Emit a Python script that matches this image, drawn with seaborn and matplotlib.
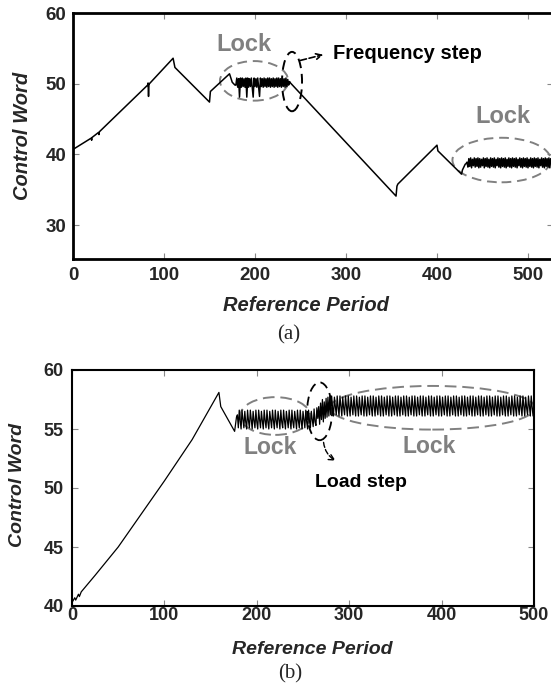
import numpy as np
import pandas as pd
import seaborn as sns
import matplotlib
matplotlib.use("Agg")
import matplotlib.pyplot as plt
from matplotlib.patches import Ellipse

# ---------------- data: panel (a) ----------------
a_seg1_x = [0, 20, 20.5, 21, 28, 28.5, 29, 82, 82.5, 83, 83.5, 84, 110, 112, 150, 151, 172, 175, 178]
a_seg1_y = [40.7, 42.3, 42.0, 42.4, 43.1, 42.8, 43.2, 49.8, 50.1, 48.2, 50.0, 50.0, 53.6, 52.3, 47.4, 48.9, 51.4, 50.2, 49.8]
a_lock1_start = 179
a_lock1_y = [
    49.8, 50.8, 49.5, 50.7, 48.1, 50.8, 49.5, 50.8, 49.6, 50.7,
    49.5, 50.8, 48.1, 50.8, 49.5, 50.7, 49.6, 50.8, 49.5, 48.1,
    50.8, 49.6, 50.7, 49.5, 50.8, 49.5, 48.2, 50.8, 49.6, 50.7,
    49.5, 50.8, 49.6, 50.7, 49.5, 50.8, 49.6, 50.8, 49.5, 50.7,
    49.6, 50.8, 49.5, 50.7, 49.6, 50.8, 49.5, 50.8, 49.6, 50.7,
    49.5, 50.8, 49.6, 50.7, 49.5, 50.8, 49.6, 50.6, 49.8, 50.3,
]
a_seg2_x = [239, 355, 356, 357, 400, 401, 427, 428, 431, 432]
a_seg2_y = [50.1, 34.1, 35.5, 35.8, 41.3, 40.5, 37.2, 37.8, 38.6, 38.7]
a_lock2_start = 433
a_lock2_y = [
    38.9, 38.2, 39.4, 38.3, 39.5, 38.1, 39.3, 38.4, 39.5, 38.2,
    39.4, 38.3, 39.5, 38.1, 39.4, 38.2, 39.3, 38.4, 39.5, 38.1,
    39.4, 38.3, 39.5, 38.2, 39.3, 38.1, 39.5, 38.3, 39.4, 38.2,
    39.5, 38.1, 39.3, 38.4, 39.5, 38.2, 39.4, 38.1, 39.5, 38.3,
    39.4, 38.2, 39.5, 38.1, 39.3, 38.3, 39.5, 38.2, 39.4, 38.1,
    39.5, 38.3, 39.4, 38.2, 39.5, 38.1, 39.3, 38.4, 39.5, 38.2,
    39.4, 38.1, 39.5, 38.3, 39.4, 38.2, 39.5, 38.1, 39.3, 38.3,
    39.5, 38.2, 39.4, 38.1, 39.5, 38.3, 39.4, 38.2, 39.5, 38.1,
    39.3, 38.4, 39.5, 38.2, 39.4, 38.1, 39.5, 38.3, 39.4, 38.2,
    39.5, 38.1, 39.4,
]

# ---------------- data: panel (b) ----------------
b_seg1_x = [0, 3, 4, 7, 8, 10, 25, 50, 75, 100, 130, 159, 161, 176, 178]
b_seg1_y = [40.3, 40.7, 40.5, 41.0, 40.8, 41.2, 42.6, 45.0, 47.8, 50.6, 54.1, 58.1, 56.9, 54.8, 56.0]
b_lock1_start = 179
b_lock1_y = [
    56.2, 55.1, 56.6, 55.7, 55.0, 56.6, 55.8, 55.1, 56.5, 55.6,
    55.0, 56.6, 55.7, 55.1, 56.6, 55.8, 55.0, 56.5, 55.7, 55.1,
    56.6, 55.6, 55.0, 56.6, 55.8, 55.1, 56.5, 55.7, 55.0, 56.6,
    55.7, 55.1, 56.6, 55.6, 55.0, 56.5, 55.8, 55.1, 56.6, 55.7,
    55.0, 56.6, 55.7, 55.1, 56.5, 55.8, 55.0, 56.6, 55.6, 55.1,
    56.6, 55.7, 55.0, 56.5, 55.8, 55.1, 56.6, 55.7, 55.0, 56.6,
    55.6, 55.1, 56.5, 55.8, 55.0, 56.6, 55.7, 55.1, 56.6, 55.7,
    55.0, 56.5, 55.8, 55.1, 56.6, 55.6, 55.0, 56.6, 55.7, 55.1,
    56.5, 55.8, 55.2, 56.7, 55.6, 55.3, 56.8, 55.9,
]
b_step_start = 267
b_step_y = [56.9, 55.4, 57.2, 55.8, 57.5, 55.6, 57.3, 55.9, 57.6, 56.0, 57.7, 56.1, 57.8]
b_lock2_start = 280
b_lock2_y = [
    56.2, 57.8, 56.8, 56.1, 57.7, 56.9, 56.2, 57.8, 56.8, 56.1,
    57.8, 56.9, 56.1, 57.7, 56.8, 56.2, 57.8, 56.9, 56.1, 57.8,
    56.8, 56.1, 57.7, 56.9, 56.2, 57.8, 56.8, 56.1, 57.8, 56.9,
    56.1, 57.7, 56.8, 56.2, 57.8, 56.9, 56.1, 57.8, 56.8, 56.1,
    57.7, 56.9, 56.2, 57.8, 56.8, 56.1, 57.8, 56.9, 56.1, 57.7,
    56.8, 56.2, 57.8, 56.9, 56.1, 57.8, 56.8, 56.1, 57.7, 56.9,
    56.2, 57.8, 56.8, 56.1, 57.8, 56.9, 56.1, 57.7, 56.8, 56.2,
    57.8, 56.9, 56.1, 57.8, 56.8, 56.1, 57.7, 56.9, 56.2, 57.8,
    56.8, 56.1, 57.8, 56.9, 56.1, 57.7, 56.8, 56.2, 57.8, 56.9,
    56.1, 57.8, 56.8, 56.1, 57.7, 56.9, 56.2, 57.8, 56.8, 56.1,
    57.8, 56.9, 56.1, 57.7, 56.8, 56.2, 57.8, 56.9, 56.1, 57.8,
    56.8, 56.1, 57.7, 56.9, 56.2, 57.8, 56.8, 56.1, 57.8, 56.9,
    56.1, 57.7, 56.8, 56.2, 57.8, 56.9, 56.1, 57.8, 56.8, 56.1,
    57.7, 56.9, 56.2, 57.8, 56.8, 56.1, 57.8, 56.9, 56.1, 57.7,
    56.8, 56.2, 57.8, 56.9, 56.1, 57.8, 56.8, 56.1, 57.7, 56.9,
    56.2, 57.8, 56.8, 56.1, 57.8, 56.9, 56.1, 57.7, 56.8, 56.2,
    57.8, 56.9, 56.1, 57.8, 56.8, 56.1, 57.7, 56.9, 56.2, 57.8,
    56.8, 56.1, 57.8, 56.9, 56.1, 57.7, 56.8, 56.2, 57.8, 56.9,
    56.1, 57.8, 56.8, 56.1, 57.7, 56.9, 56.2, 57.8, 56.8, 56.1,
    57.8, 56.9, 56.1, 57.7, 56.8, 56.2, 57.8, 56.9, 56.1, 57.8,
    56.8, 56.1, 57.7, 56.9, 56.2, 57.8, 56.8, 56.1, 57.8, 56.9,
    56.1, 57.7, 56.8, 56.2, 57.8, 56.9, 56.1, 57.8, 56.8, 56.1,
    57.6,
]

a_xticks = [0, 100, 200, 300, 400, 500]
a_yticks = [30, 40, 50, 60]
b_xticks = [0, 100, 200, 300, 400, 500]
b_yticks = [40, 45, 50, 55, 60]


def samples(start, ys):
    return list(range(start, start + len(ys)))


a_x = a_seg1_x + samples(a_lock1_start, a_lock1_y) + a_seg2_x + samples(a_lock2_start, a_lock2_y)
a_y = a_seg1_y + a_lock1_y + a_seg2_y + a_lock2_y
b_x = b_seg1_x + samples(b_lock1_start, b_lock1_y) + samples(b_step_start, b_step_y) + samples(b_lock2_start, b_lock2_y)
b_y = b_seg1_y + b_lock1_y + b_step_y + b_lock2_y
df_a = pd.DataFrame({"period": a_x, "word": a_y})
df_b = pd.DataFrame({"period": b_x, "word": b_y})

# ---------------- style ----------------
sns.set_style("white")
plt.rcParams["font.family"] = ["Liberation Sans", "DejaVu Sans"]

fig = plt.figure(figsize=(5.51, 6.95), dpi=100)
ax1 = fig.add_axes([73 / 551, 436 / 695, 480 / 551, 246 / 695])
ax2 = fig.add_axes([72 / 551, 89 / 695, 462 / 551, 236 / 695])

sns.lineplot(data=df_a, x="period", y="word", ax=ax1, color="black", lw=1.1,
             estimator=None, sort=False)
sns.lineplot(data=df_b, x="period", y="word", ax=ax2, color="black", lw=0.9,
             estimator=None, sort=False)

GRAY = "#808080"
lab_kw = dict(fontweight="bold", fontstyle="italic")

for ax, xt, yt, xl, yl, fs, lfs, spw, xpad, ypad in [
    (ax1, a_xticks, a_yticks, (0, 527.5), (25.2, 60), 13.5, 14.5, 2.0, 6, 5),
    (ax2, b_xticks, b_yticks, (0, 500), (40, 60), 13, 14, 1.5, 1, 6),
]:
    ax.set_xlim(*xl)
    ax.set_ylim(*yl)
    ax.set_xticks(xt)
    ax.set_yticks(yt)
    ax.set_xticklabels([str(v) for v in xt], fontsize=fs, fontweight="bold")
    ax.set_yticklabels([str(v) for v in yt], fontsize=fs, fontweight="bold")
    ax.tick_params(axis="x", direction="in", length=4, width=0.8, color="#888888",
                   top=True, bottom=True, pad=xpad)
    ax.tick_params(axis="y", direction="in", length=4, width=0.8, color="#888888",
                   left=True, right=True, pad=ypad)
    for s in ax.spines.values():
        s.set_color("black")
        s.set_linewidth(spw)
    ax.set_xlabel("Reference Period", fontsize=lfs, va="center", **lab_kw)
    ax.set_ylabel("Control Word", fontsize=lfs, va="center", **lab_kw)

ax1.xaxis.set_label_coords(0.485, -0.191)
ax1.yaxis.set_label_coords(-0.106, 0.5)
ax2.xaxis.set_label_coords(0.519, -0.186)
ax2.yaxis.set_label_coords(-0.117, 0.513)

# ---------------- annotations (a) ----------------
ax1.add_patch(Ellipse((199, 50.4), 75, 5.6, fill=False, ec=GRAY, lw=1.4, ls=(0, (5, 3))))
ax1.add_patch(Ellipse((471, 39.2), 108, 6.3, fill=False, ec=GRAY, lw=1.4, ls=(0, (5, 3)), clip_on=False))
ax1.add_patch(Ellipse((240.7, 50.3), 22, 8.4, angle=0, fill=False, ec="black", lw=1.4, ls=(0, (5, 3))))
ax1.text(188, 55.6, "Lock", color=GRAY, fontsize=17, fontweight="bold", ha="center", va="center")
ax1.text(472, 45.3, "Lock", color=GRAY, fontsize=17, fontweight="bold", ha="center", va="center")
ax1.annotate("", xy=(278, 54.2), xytext=(247, 53.2),
             arrowprops=dict(arrowstyle="->", color="black", lw=1.2, ls="--"))
ax1.text(285.5, 54.3, "Frequency step", color="black", fontsize=14.5, fontweight="bold",
         ha="left", va="center")

# ---------------- annotations (b) ----------------
ax2.add_patch(Ellipse((220, 56.1), 76, 3.2, fill=False, ec=GRAY, lw=1.4, ls=(0, (6, 3))))
ax2.add_patch(Ellipse((390, 56.8), 222, 3.7, fill=False, ec=GRAY, lw=1.4, ls=(0, (6, 3))))
ax2.add_patch(Ellipse((268, 56.5), 27, 4.9, fill=False, ec="black", lw=1.3, ls=(0, (5, 3))))
ax2.text(215, 53.4, "Lock", color=GRAY, fontsize=16.5, fontweight="bold", ha="center", va="center")
ax2.text(387, 53.5, "Lock", color=GRAY, fontsize=16.5, fontweight="bold", ha="center", va="center")
ax2.annotate("", xy=(288, 52.2), xytext=(272, 54.1),
             arrowprops=dict(arrowstyle="->", color="black", lw=1.0, ls="--",
                             connectionstyle="arc3,rad=0.3"))
ax2.text(313, 50.5, "Load step", color="black", fontsize=14, fontweight="bold",
         ha="center", va="center")

fig.text(0.5236, 1 - 335 / 695, "(a)", fontsize=15, family=["Liberation Serif", "DejaVu Serif"],
         ha="center", va="center")
fig.text(290 / 551, 1 - 674 / 695, "(b)", fontsize=15, family=["Liberation Serif", "DejaVu Serif"],
         ha="center", va="center")

fig.savefig("out.png", dpi=100)
